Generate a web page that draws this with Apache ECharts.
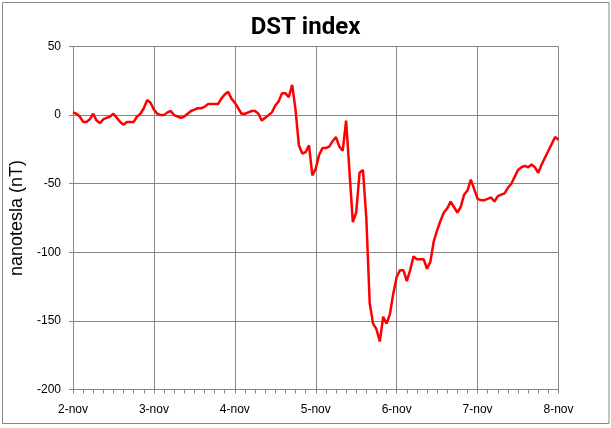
<!DOCTYPE html>
<html>
<head>
<meta charset="utf-8">
<style>
html,body{margin:0;padding:0;background:#fff;}
#c{width:611px;height:428px;}
</style>
<script src="https://cdn.jsdelivr.net/npm/echarts@6/dist/echarts.min.js"></script>
</head>
<body>
<div id="c"></div>
<script>
// Tick labels for each day (x axis, hours from 2-nov 00:00)
var dayLabels = ['2-nov', '3-nov', '4-nov', '5-nov', '6-nov', '7-nov', '8-nov'];
// Hourly DST values (nT), hour 0 .. 144
var dstDay2 = [2, 1, -1, -5, -5, -3, 1, -4, -6, -3, -2, -1, 1, -2, -5, -7, -5, -5, -5, -1, 1, 5, 11, 9];
var dstDay3 = [4, 1, 0, 0, 2, 3, 0, -1, -2, -1, 1, 3, 4, 5, 5, 6, 8, 8, 8, 8, 12, 15, 17, 12];
var dstDay4 = [9, 5, 1, 1, 2, 3, 3, 1, -4, -2, 0, 2, 7, 10, 16, 16, 13, 22, 4, -22, -28, -27, -22, -44];
var dstDay5 = [-39, -29, -24, -24, -23, -19, -16, -23, -26, -4, -41, -78, -71, -42, -40, -75, -137, -152, -156, -165, -147, -152, -145, -130];
var dstDay6 = [-118, -113, -113, -121, -113, -103, -105, -105, -105, -112, -107, -92, -84, -77, -71, -68, -63, -67, -71, -67, -58, -55, -47, -54];
var dstDay7 = [-61, -62, -62, -61, -60, -63, -59, -58, -57, -53, -50, -45, -40, -38, -37, -38, -36, -38, -42, -36, -31, -26, -21, -16];
var dstDay8 = [-18];

var dst = [].concat(dstDay2, dstDay3, dstDay4, dstDay5, dstDay6, dstDay7, dstDay8);
var seriesData = dst.map(function (v, i) { return [i, v]; });

var chart = echarts.init(document.getElementById('c'), null, {renderer: 'canvas'});
var gray = '#868686';
chart.setOption({
  animation: false,
  backgroundColor: '#ffffff',
  title: {
    text: 'DST index',
    left: 'center',
    top: 11,
    textStyle: {fontFamily: 'Roboto', fontWeight: 'bold', fontSize: 24, color: '#000'}
  },
  graphic: [{
    type: 'rect',
    shape: {x: 2.5, y: 2.5, width: 606.5, height: 421},
    style: {fill: 'none', stroke: gray, lineWidth: 1},
    silent: true
  }],
  grid: {left: 69.5, right: 52.5, top: 46.5, bottom: 38.5, containLabel: false},
  xAxis: {
    type: 'value',
    min: 0,
    max: 144,
    interval: 24,
    axisLine: {show: true, onZero: false, lineStyle: {color: gray, width: 1}},
    axisTick: {show: true, length: 4, inside: false, lineStyle: {color: gray}},
    minorTick: {show: true, splitNumber: 8, length: 4, lineStyle: {color: gray}},
    splitLine: {show: true, lineStyle: {color: gray, width: 1}},
    axisLabel: {
      margin: 14,
      fontFamily: 'Liberation Sans',
      fontSize: 12,
      color: '#000',
      formatter: function (v) { return dayLabels[Math.round(v / 24)]; }
    }
  },
  yAxis: {
    type: 'value',
    min: -200,
    max: 50,
    interval: 50,
    name: 'nanotesla (nT)',
    nameLocation: 'middle',
    nameGap: 47,
    nameTextStyle: {fontFamily: 'Liberation Sans', fontSize: 18, color: '#000'},
    axisLine: {show: true, lineStyle: {color: gray, width: 1}},
    axisTick: {show: true, length: 4, lineStyle: {color: gray}},
    splitLine: {show: true, lineStyle: {color: gray, width: 1}},
    axisLabel: {margin: 12, fontFamily: 'Liberation Sans', fontSize: 12, color: '#000'}
  },
  series: [{
    type: 'line',
    data: seriesData,
    showSymbol: false,
    smooth: false,
    lineStyle: {color: '#ff0000', width: 2.5},
    itemStyle: {color: '#ff0000'}
  }]
});
</script>
</body>
</html>
